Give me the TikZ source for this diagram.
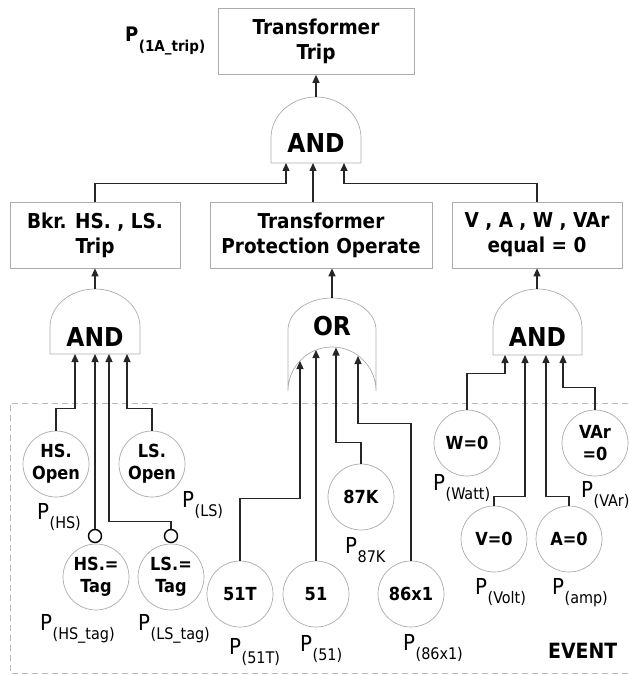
\documentclass[tikz,border=0pt]{standalone}
\usepackage{fontspec}
\setmainfont{DejaVu Sans Condensed}
\usetikzlibrary{arrows.meta}
\tikzset{
  box/.style={draw=gray!65, line width=0.7pt, fill=white, align=center,
    font=\fontsize{20.5}{25}\selectfont\bfseries, minimum height=66pt, inner sep=0pt},
  evt/.style={circle, draw=gray!65, line width=0.7pt, fill=white, minimum size=66pt,
    inner sep=0pt, align=center, font=\fontsize{18}{22}\selectfont\bfseries},
  gate/.style={draw=gray!65, line width=0.7pt},
  gatelbl/.style={inner sep=0pt, font=\fontsize{26}{26}\selectfont\bfseries},
  conn/.style={draw=black!85, line width=1.3pt, -{Triangle[length=8pt,width=7pt]}},
  wire/.style={draw=black!85, line width=1.3pt},
  bubble/.style={circle, draw=black, line width=1.4pt, fill=white, minimum size=13pt, inner sep=0pt},
  plab/.style={anchor=base west, inner sep=0pt, font=\fontsize{22}{22}\selectfont},
  frame/.style={draw=gray!55, line width=0.8pt, dash pattern=on 6pt off 4pt},
}
\newcommand{\Psub}[1]{P\kern0.5pt\raisebox{-9pt}{\fontsize{16}{16}\selectfont #1}}
\begin{document}
\begin{tikzpicture}[x=1pt,y=-1pt]
\useasboundingbox (0,0) rectangle (628,676);

% event frame
\draw[frame] (628,403) -- (10,403) -- (10,673) -- (628,673);

% boxes
\node[box, minimum width=196pt] (top) at (316,41.5) {Transformer\\Trip};
\node[box, minimum width=170pt] (bkr) at (95,235) {Bkr. HS. , LS.\\Trip};
\node[box, minimum width=222pt] (mid) at (321,235) {Transformer\\Protection Operate};
\node[box, minimum width=170pt] (rbox) at (537,235) {V , A , W , VAr\\equal = 0};

% top AND gate
\draw[gate] (271,163) -- (271,138) arc[start angle=180,end angle=0,x radius=45pt,y radius=41pt] -- (361,163) -- cycle;
\node[gatelbl] (tA) at (316,143) {AND};
\coordinate (tAout) at (316,97);
\coordinate (tAin1) at (286,163);
\coordinate (tAin2) at (313,163);
\coordinate (tAin3) at (344,163);

% left AND gate
\draw[gate] (50,354) -- (50,327) arc[start angle=180,end angle=0,x radius=45pt,y radius=38pt] -- (140,354) -- cycle;
\node[gatelbl] (lA) at (95,337) {AND};
\coordinate (lAout) at (95,289);
\coordinate (lAin1) at (75,354);
\coordinate (lAin2) at (95,354);
\coordinate (lAin3) at (109,354);
\coordinate (lAin4) at (127,354);

% OR gate
\draw[gate] (288,391) -- (288,330) arc[start angle=180,end angle=0,x radius=44pt,y radius=32pt] -- (376,391) arc[start angle=0,end angle=180,x radius=44pt,y radius=44pt];
\node[gatelbl] (orG) at (332,326) {OR};
\coordinate (orout) at (332,298);
\coordinate (orin1) at (300,361);
\coordinate (orin2) at (316,350);
\coordinate (orin3) at (336,347.5);
\coordinate (orin4) at (358,356);

% right AND gate
\draw[gate] (493,355) -- (493,328) arc[start angle=180,end angle=0,x radius=44.5pt,y radius=39pt] -- (582,355) -- cycle;
\node[gatelbl] (rA) at (537.5,337) {AND};
\coordinate (rAout) at (537,289);
\coordinate (rAin1) at (505,355);
\coordinate (rAin2) at (525,355);
\coordinate (rAin3) at (546,355);
\coordinate (rAin4) at (563,355);

% events
\node[evt] (hso) at (56,464) {HS.\\Open};
\node[evt] (lso) at (152,464) {LS.\\Open};
\node[evt] (hst) at (96,577) {HS.=\\Tag};
\node[evt] (lst) at (171,577) {LS.=\\Tag};
\node[bubble] (hsb) at (95,536) {};
\node[bubble] (lsb) at (171,536) {};
\node[evt] (c51t) at (240,594) {51T};
\node[evt] (c51) at (316,594) {51};
\node[evt] (c86) at (411,594) {86x1};
\node[evt] (c87) at (361,497) {87K};
\node[evt] (w0) at (467,443) {W=0};
\node[evt] (var) at (595,443) {VAr\\=0};
\node[evt] (v0) at (494,539) {V=0};
\node[evt] (a0) at (569,539) {A=0};

% connectors: top level
\draw[conn] (tAout) -- (tAout |- top.south);
\draw[conn] (bkr.north) -- ++(0,-18) -| (tAin1);
\draw[conn] (tAin2 |- mid.north) -- (tAin2);
\draw[conn] (rbox.north) -- ++(0,-18) -| (tAin3);

% left AND
\draw[conn] (lAout) -- (lAout |- bkr.south);
\draw[conn] (hso.north) -- ++(0,-22) -| (lAin1);
\draw[conn] (hsb.north) -- (lAin2);
\draw[conn] (lsb.north) -- ++(0,-7) -| (lAin3);
\draw[conn] (lso.north) -- ++(0,-22) -| (lAin4);

% OR
\draw[conn] (orout) -- (orout |- mid.south);
\draw[conn] (c51t.north) -- ++(0,-62) -| (orin1);
\draw[conn] (c51.north) -- (orin2);
\draw[conn] (c87.north) -- ++(0,-21) -| (orin3);
\draw[conn] (c86.north) -- ++(0,-137) -| (orin4);

% right AND
\draw[conn] (rAout) -- (rAout |- rbox.south);
\draw[conn] (w0.north) -- ++(0,-36) -| (rAin1);
\draw[conn] (v0.north) -- ++(0,-9) -| (rAin2);
\draw[conn] (a0.north) -- ++(0,-9) -| (rAin3);
\draw[conn] (var.north) -- ++(0,-22) -| (rAin4);

% probability labels
\node[anchor=base west, inner sep=0pt] (p1a) at (125,42)
  {\fontsize{20}{20}\selectfont\bfseries P\kern0.5pt\raisebox{-10pt}{\fontsize{15}{15}\selectfont (1A\_trip)}};
\node[plab] (pHS) at (37,519) {\Psub{(HS)}};
\node[plab] (pLS) at (182,507) {\Psub{(LS)}};
\node[plab] (pHStag) at (40,630) {\Psub{(HS\_tag)}};
\node[plab] (pLStag) at (138,630) {\Psub{(LS\_tag)}};
\node[plab] (p51T) at (229,654) {\Psub{(51T)}};
\node[plab] (p51) at (300,651) {\Psub{(51)}};
\node[plab] (p86) at (403,650) {\Psub{(86x1)}};
\node[plab] (p87) at (345,553) {\Psub{87K}};
\node[plab] (pW) at (433,490) {\Psub{(Watt)}};
\node[plab] (pVAr) at (581,497) {\Psub{(VAr)}};
\node[plab] (pV) at (475,594) {\Psub{(Volt)}};
\node[plab] (pA) at (552,594) {\Psub{(amp)}};
\node[anchor=base west, inner sep=0pt, font=\fontsize{21}{21}\selectfont\bfseries] (ev) at (548,658) {EVENT};
\end{tikzpicture}
\end{document}
